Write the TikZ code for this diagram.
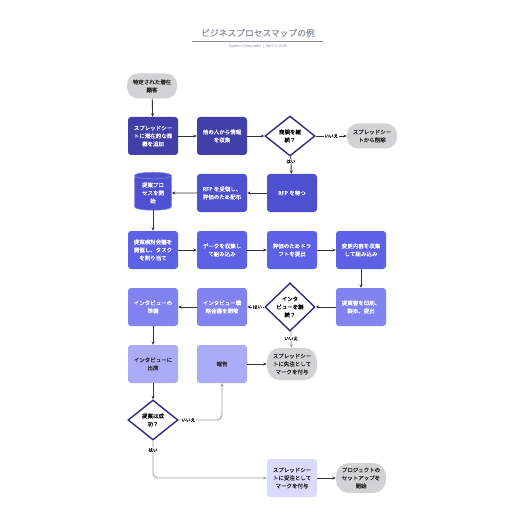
\documentclass[tikz,border=0pt]{standalone}
\usepackage{fontspec}
\setmainfont{Noto Sans CJK JP}[BoldFont=Noto Sans CJK JP, BoldFeatures={FakeBold=0.2}]
\usetikzlibrary{shapes.geometric,arrows.meta}
\definecolor{cA}{HTML}{4040A8}
\definecolor{cB}{HTML}{4E51CF}
\definecolor{cC}{HTML}{5D61E6}
\definecolor{cD}{HTML}{8083F0}
\definecolor{cE}{HTML}{AAACF7}
\definecolor{cF}{HTML}{D9DAFC}
\definecolor{termgray}{HTML}{D2D2D4}
\definecolor{dnavy}{HTML}{2E2E80}
\definecolor{lnk}{HTML}{333333}
\definecolor{lgray}{HTML}{9A9A9A}
\definecolor{ttl}{HTML}{8A8FA8}
\tikzset{
  txt/.style={font=\fontsize{5.5}{8}\selectfont\bfseries, align=center},
  procbox/.style={txt, rectangle, rounded corners=3bp, minimum width=50bp, minimum height=38bp, inner sep=1bp, text=white},
  termbox/.style={txt, rectangle, rounded corners=11bp, fill=termgray, text=black!85, minimum width=50bp, minimum height=25bp, inner sep=1bp},
  decbox/.style={txt, diamond, draw=dnavy, line width=1.4bp, fill=white, minimum width=50bp, minimum height=40bp, inner sep=0bp, text=black},
  cylbox/.style={txt, cylinder, shape border rotate=90, aspect=0.3, fill=cB, draw=cB!65!white, line width=0.5bp, text=white, minimum width=37bp, minimum height=38bp, inner sep=0bp},
  conn/.style={draw=lnk, line width=0.9bp, -{Stealth[length=3.5bp,width=3bp]}},
  gconn/.style={draw=lgray, line width=0.8bp, -{Stealth[length=3.5bp,width=3bp]}},
  lbl/.style={font=\fontsize{4.6}{5}\selectfont\bfseries, fill=white, inner sep=0.8bp, text=black}
}
\begin{document}
\begin{tikzpicture}[x=1bp,y=-1bp]
\fill[white] (0,0) rectangle (516,516);
\useasboundingbox (0,0) rectangle (516,516);
% title
\node[font=\fontsize{8.8}{10}\selectfont\bfseries, text=ttl] (title) at (258,33) {ビジネスプロセスマップの例};
\draw[ttl, line width=0.7bp] (192,41) -- (323,41);
\node[font=\fontsize{3.8}{4}\selectfont, text=ttl] (sub) at (258,46.5) {System Templates \ | \ April 3, 2025};

% nodes
\node[termbox] (start) at (152,86) {特定された潜在\\顧客};
\node[procbox, fill=cA] (b1) at (153,136) {スプレッドシー\\トに潜在的な商\\機を追加};
\node[procbox, fill=cA] (b2) at (222,136) {他の人から情報\\を収集};
\node[decbox] (d1) at (290,136) {商談を継\\続？};
\node[termbox] (del) at (372,136) {スプレッドシー\\トから削除};

\node[cylbox] (cyl) at (153,193) {提案プロ\\セスを開\\始};
\node[procbox, fill=cB] (rfp1) at (222,193) {RFP を受領し、\\評価のため配布};
\node[procbox, fill=cB] (rfp0) at (292,193) {RFP を待つ};

\node[procbox, fill=cC] (c1) at (153,250) {提案検討会議を\\開催し、タスク\\を割り当て};
\node[procbox, fill=cC] (c2) at (222,250) {データを収集し\\て組み込み};
\node[procbox, fill=cC] (c3) at (292,250) {評価のためドラ\\フトを提出};
\node[procbox, fill=cC] (c4) at (361,250) {変更内容を収集\\して組み込み};

\node[procbox, fill=cD] (e1) at (153,307) {インタビューの\\準備};
\node[procbox, fill=cD] (e2) at (222,307) {インタビュー戦\\略会議を開催};
\node[decbox] (d2) at (290,307) {インタ\\ビューを継\\続？};
\node[procbox, fill=cD] (e4) at (361,307) {提案書を印刷、\\製本、提出};

\node[procbox, fill=cE, text=black!85] (f1) at (153,364) {インタビューに\\出席};
\node[procbox, fill=cE, text=black!85] (f2) at (222,364) {報告};
\node[termbox, minimum height=32bp, rounded corners=13bp] (lost) at (292,364) {スプレッドシー\\トに失注として\\マークを付与};

\node[decbox] (d3) at (153,420) {提案は成\\功？};

\node[procbox, fill=cF, text=black!85] (won) at (292,478) {スプレッドシー\\トに受注として\\マークを付与};
\node[termbox, minimum height=30bp, rounded corners=13bp] (proj) at (361,478) {プロジェクトの\\セットアップを\\開始};

% connectors
\draw[conn] (start) -- (b1);
\draw[conn] (b1) -- (b2);
\draw[conn] (b2) -- (d1);
\draw[conn] (d1) -- node[lbl] {いいえ} (del);
\draw[conn] (d1) -- node[lbl, pos=0.3] {はい} (rfp0);
\draw[conn] (rfp0) -- (rfp1);
\draw[conn] (rfp1) -- (cyl);
\draw[conn] (cyl) -- (c1);
\draw[conn] (c1) -- (c2);
\draw[conn] (c2) -- (c3);
\draw[conn] (c3) -- (c4);
\draw[conn] (c4) -- (e4);
\draw[conn] (e4) -- (d2);
\draw[conn] (d2) -- node[lbl, pos=0.4] {はい} (e2);
\draw[gconn] (d2) -- node[lbl, pos=0.45] {いいえ} (lost);
\draw[conn] (e2) -- (e1);
\draw[conn] (e1) -- (f1);
\draw[conn] (f1) -- (d3);
\draw[conn] (f2) -- (lost);
\coordinate (k1) at (222,420);
\coordinate (k2) at (153,478);
\draw[gconn, rounded corners=5bp] (d3.east) -- node[lbl, pos=0.22] {いいえ} (k1) -- (f2.south);
\draw[gconn, rounded corners=5bp] (d3.south) -- node[lbl, pos=0.25] {はい} (k2) -- (won.west);
\draw[conn] (won) -- (proj);
\end{tikzpicture}
\end{document}
